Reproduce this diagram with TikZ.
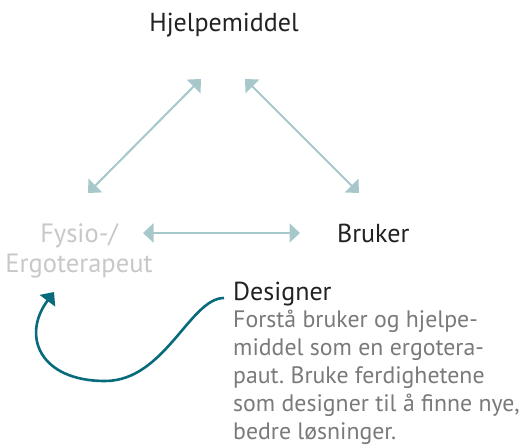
\documentclass[tikz,border=0pt]{standalone}
\usepackage{fontspec}
\setmainfont{PT Sans}
\usetikzlibrary{arrows.meta}
\frenchspacing
\definecolor{inkdark}{HTML}{222222}
\definecolor{inkfaint}{HTML}{C8C8C8}
\definecolor{inkbody}{HTML}{7A7A7A}
\definecolor{linklight}{HTML}{A6C8CB}
\definecolor{linkteal}{HTML}{076B7C}
\tikzset{
  label/.style={inner sep=0pt, font=\fontsize{26}{30}\selectfont, text=inkdark},
  faintlabel/.style={label, font=\fontsize{26.5}{30}\selectfont, text=inkfaint, align=center},
  bodytext/.style={inner sep=0pt, font=\fontsize{23.8}{28}\selectfont, text=inkbody, align=left},
  relation/.style={draw=linklight, line width=2pt,
    {Triangle[length=10.5pt,width=19pt]}-{Triangle[length=10.5pt,width=19pt]}},
  flow/.style={draw=linkteal, line width=2.6pt,
    -{Triangle[length=11pt,width=19pt]}}
}
\begin{document}
\begin{tikzpicture}[x=1pt,y=-1pt]
  \useasboundingbox[fill=white] (0,0) rectangle (525,446);

  % labels (multi-line nodes are placed by their last baseline)
  \node[label, anchor=base] (hjelp) at (224,32) {Hjelpemiddel};
  \node[label, anchor=base west] (bruker) at (337,243) {Bruker};
  \node[faintlabel, anchor=base] (fysio) at (79,273) {Fysio-/\\Ergoterapeut};
  \node[label, anchor=base west] (designer) at (233,301) {Designer};
  \node[bodytext, anchor=base west] (body) at (233,439)
    {Forstå bruker og hjelpe-\\middel som en ergotera-\\paut. Bruke ferdighetene\\som designer til å finne nye,\\bedre løsninger.};

  % arrow end points around the triangle
  \coordinate (hl) at (201,79);
  \coordinate (hr) at (245,79);
  \coordinate (fu) at (88,193);
  \coordinate (bu) at (359,193);
  \coordinate (fr) at (143,233);
  \coordinate (bl) at (300,233);

  \draw[relation] (fu) -- (hl);
  \draw[relation] (hr) -- (bu);
  \draw[relation] (fr) -- (bl);

  % curved arrow from the designer back to the therapist
  \coordinate (dstart) at (224,298);
  \coordinate (dlow) at (105,381);
  \coordinate (dend) at (54,292);
  \draw[flow] (dstart) .. controls (190,298) and (165,381) .. (dlow)
              .. controls (40,381) and (21,336) .. (dend);
\end{tikzpicture}
\end{document}
